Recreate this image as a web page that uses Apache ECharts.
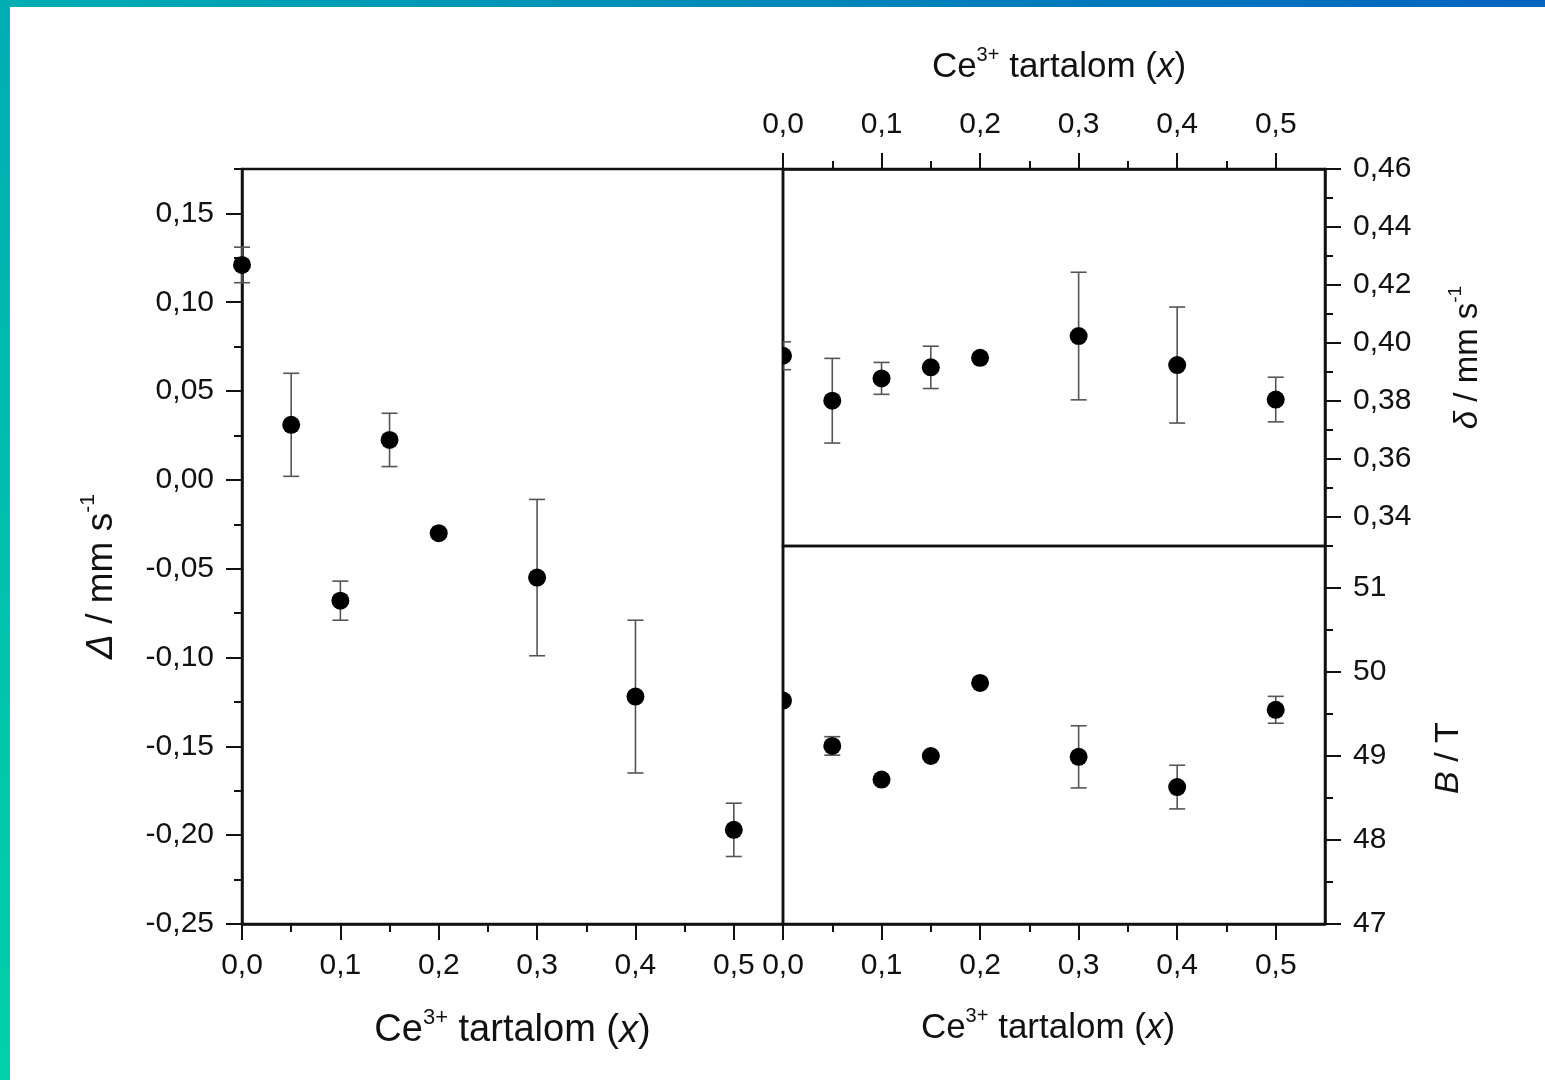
<!DOCTYPE html>
<html><head><meta charset="utf-8">
<script src="https://cdn.jsdelivr.net/npm/echarts@6/dist/echarts.min.js"></script>
<style>html,body{margin:0;padding:0;background:#fff}#c{width:1545px;height:1080px}</style>
</head><body><div id="c"></div>
<script>
// ---- data ----
const xValues = [0, 0.05, 0.1, 0.15, 0.2, 0.3, 0.4, 0.5];
const deltaValues = [0.121, 0.031, -0.068, 0.0225, -0.030, -0.055, -0.122, -0.197];
const deltaErrors = [0.010, 0.029, 0.011, 0.015, 0, 0.044, 0.043, 0.015];
const isoValues = [0.3956, 0.3801, 0.3878, 0.3916, 0.3949, 0.4024, 0.3924, 0.3805];
const isoErrors = [0.0048, 0.0146, 0.0055, 0.0073, 0, 0.022, 0.020, 0.0077];
const fieldValues = [49.66, 49.12, 48.72, 49.00, 49.87, 48.99, 48.63, 49.55];
const fieldErrors = [0, 0.11, 0, 0, 0, 0.37, 0.26, 0.16];

// ---- ticks ----
const xMajorTicks = [0, 0.1, 0.2, 0.3, 0.4, 0.5];
const xTickLabels = ['0,0', '0,1', '0,2', '0,3', '0,4', '0,5'];
const xMinorTicks = [0.05, 0.15, 0.25, 0.35, 0.45];
const deltaMajorTicks = [-0.25, -0.2, -0.15, -0.1, -0.05, 0, 0.05, 0.1, 0.15];
const deltaTickLabels = ['-0,25', '-0,20', '-0,15', '-0,10', '-0,05', '0,00', '0,05', '0,10', '0,15'];
const deltaMinorTicks = [-0.225, -0.175, -0.125, -0.075, -0.025, 0.025, 0.075, 0.125, 0.175];
const isoMajorTicks = [0.34, 0.36, 0.38, 0.40, 0.42, 0.44, 0.46];
const isoTickLabels = ['0,34', '0,36', '0,38', '0,40', '0,42', '0,44', '0,46'];
const isoMinorTicks = [0.33, 0.35, 0.37, 0.39, 0.41, 0.43, 0.45];
const fieldMajorTicks = [47, 48, 49, 50, 51];
const fieldTickLabels = ['47', '48', '49', '50', '51'];
const fieldMinorTicks = [47.5, 48.5, 49.5, 50.5];

const FONT = '"Liberation Sans", Arial, sans-serif';
const INK = '#111';

function fmt(ticks, labels) {
  return function (v) {
    for (let i = 0; i < ticks.length; i++) if (Math.abs(ticks[i] - v) < 1e-9) return labels[i];
    return '';
  };
}

function majorAxis(o) {
  return {
    type: 'value', gridIndex: o.grid, position: o.pos, min: o.min, max: o.max,
    axisLine: { show: true, onZero: false, lineStyle: { color: INK, width: 2.5 } },
    axisTick: { show: true, inside: false, length: 16, customValues: o.ticks, lineStyle: { color: INK, width: 2 } },
    axisLabel: { show: true, customValues: o.ticks, formatter: fmt(o.ticks, o.labels), margin: o.margin || 27,
      fontSize: 30, color: INK, fontFamily: FONT },
    splitLine: { show: false },
    name: o.name || '', nameLocation: 'middle', nameGap: o.nameGap || 0, nameRotate: o.nameRotate,
    nameTextStyle: o.nameStyle
  };
}
function minorAxis(o) {
  return {
    type: 'value', gridIndex: o.grid, position: o.pos, min: o.min, max: o.max,
    axisLine: { show: false, onZero: false },
    axisTick: { show: true, inside: false, length: 8, customValues: o.ticks, lineStyle: { color: INK, width: 2 } },
    axisLabel: { show: false },
    splitLine: { show: false }
  };
}
function nameStyle(size, padding) {
  const s = {
    fontFamily: FONT, color: INK, fontSize: size,
    rich: {
      n: { fontFamily: FONT, color: INK, fontSize: size, lineHeight: size + 10 },
      i: { fontFamily: FONT, color: INK, fontSize: size, fontStyle: 'italic', lineHeight: size + 10 },
      sup: { fontFamily: FONT, color: INK, fontSize: Math.round(size * 0.58), verticalAlign: 'top', lineHeight: Math.round(size * 0.58) }
    }
  };
  if (padding) s.padding = padding;
  return s;
}

function pointRender(params, api) {
  const x = api.value(0), y = api.value(1), e = api.value(2);
  const c = api.coord([x, y]);
  const children = [];
  if (e) {
    const t = api.coord([x, y + e]);
    const b = api.coord([x, y - e]);
    const hw = 8;
    const st = { stroke: '#555', lineWidth: 1.6 };
    children.push(
      { type: 'line', shape: { x1: t[0], y1: t[1], x2: b[0], y2: b[1] }, style: st },
      { type: 'line', shape: { x1: t[0] - hw, y1: t[1], x2: t[0] + hw, y2: t[1] }, style: st },
      { type: 'line', shape: { x1: b[0] - hw, y1: b[1], x2: b[0] + hw, y2: b[1] }, style: st }
    );
  }
  children.push({ type: 'circle', shape: { cx: c[0], cy: c[1], r: 9 }, style: { fill: '#000' } });
  return { type: 'group', children: children };
}

const xName = '{n|Ce}{sup|3+}{n| tartalom (}{i|x}{n|)}';

const option = {
  animation: false,
  backgroundColor: '#fff',
  graphic: [
    { type: 'rect', z: 100, shape: { x: 0, y: 0, width: 1545, height: 7 },
      style: { fill: { type: 'linear', x: 0, y: 0, x2: 1, y2: 0, colorStops: [{ offset: 0, color: '#00AEB2' }, { offset: 1, color: '#0063BF' }] } } },
    { type: 'rect', z: 100, shape: { x: 0, y: 0, width: 10, height: 1080 },
      style: { fill: { type: 'linear', x: 0, y: 0, x2: 0, y2: 1, colorStops: [{ offset: 0, color: '#00AEB2' }, { offset: 1, color: '#00D2A9' }] } } }
  ],
  grid: [
    { left: 242, top: 169, width: 541, height: 755, show: true, borderColor: INK, borderWidth: 2.5, backgroundColor: 'transparent' },
    { left: 783, top: 169, width: 542, height: 377, show: true, borderColor: INK, borderWidth: 2.5, backgroundColor: 'transparent' },
    { left: 783, top: 546, width: 542, height: 378, show: true, borderColor: INK, borderWidth: 2.5, backgroundColor: 'transparent' }
  ],
  xAxis: [
    majorAxis({ grid: 0, pos: 'bottom', min: 0, max: 0.55, ticks: xMajorTicks, labels: xTickLabels,
      name: xName, nameGap: 83, nameStyle: nameStyle(38) }),
    minorAxis({ grid: 0, pos: 'bottom', min: 0, max: 0.55, ticks: xMinorTicks }),
    majorAxis({ grid: 1, pos: 'top', min: 0, max: 0.55, ticks: xMajorTicks, labels: xTickLabels, margin: 29,
      name: xName, nameGap: 79, nameStyle: nameStyle(35, [0, 0, 0, 10]) }),
    minorAxis({ grid: 1, pos: 'top', min: 0, max: 0.55, ticks: xMinorTicks }),
    majorAxis({ grid: 2, pos: 'bottom', min: 0, max: 0.55, ticks: xMajorTicks, labels: xTickLabels,
      name: xName, nameGap: 82, nameStyle: nameStyle(35, [0, 12, 0, 0]) }),
    minorAxis({ grid: 2, pos: 'bottom', min: 0, max: 0.55, ticks: xMinorTicks })
  ],
  yAxis: [
    majorAxis({ grid: 0, pos: 'left', min: -0.25, max: 0.175, ticks: deltaMajorTicks, labels: deltaTickLabels, margin: 28,
      name: '{i|Δ}{n| / mm s}{sup|-1}', nameGap: 117, nameRotate: 90, nameStyle: nameStyle(37, [0, 60, 0, 0]) }),
    minorAxis({ grid: 0, pos: 'left', min: -0.25, max: 0.175, ticks: deltaMinorTicks }),
    majorAxis({ grid: 1, pos: 'right', min: 0.33, max: 0.46, ticks: isoMajorTicks, labels: isoTickLabels, margin: 28,
      name: '{i|δ}{n| / mm s}{sup|-1}', nameGap: 121, nameRotate: 90, nameStyle: nameStyle(33) }),
    minorAxis({ grid: 1, pos: 'right', min: 0.33, max: 0.46, ticks: isoMinorTicks }),
    majorAxis({ grid: 2, pos: 'right', min: 47, max: 51.5, ticks: fieldMajorTicks, labels: fieldTickLabels, margin: 28,
      name: '{i|B}{n| / T}', nameGap: 102, nameRotate: 90, nameStyle: nameStyle(34, [0, 46, 0, 0]) }),
    minorAxis({ grid: 2, pos: 'right', min: 47, max: 51.5, ticks: fieldMinorTicks })
  ],
  series: [
    { type: 'custom', xAxisIndex: 0, yAxisIndex: 0, clip: false, z: 5, renderItem: pointRender,
      data: xValues.map((x, i) => [x, deltaValues[i], deltaErrors[i]]) },
    { type: 'custom', xAxisIndex: 2, yAxisIndex: 2, clip: true, z: 5, renderItem: pointRender,
      data: xValues.map((x, i) => [x, isoValues[i], isoErrors[i]]) },
    { type: 'custom', xAxisIndex: 4, yAxisIndex: 4, clip: true, z: 5, renderItem: pointRender,
      data: xValues.map((x, i) => [x, fieldValues[i], fieldErrors[i]]) }
  ]
};

const chart = echarts.init(document.getElementById('c'), null, { renderer: 'canvas' });
chart.setOption(option);
</script>
</body></html>
